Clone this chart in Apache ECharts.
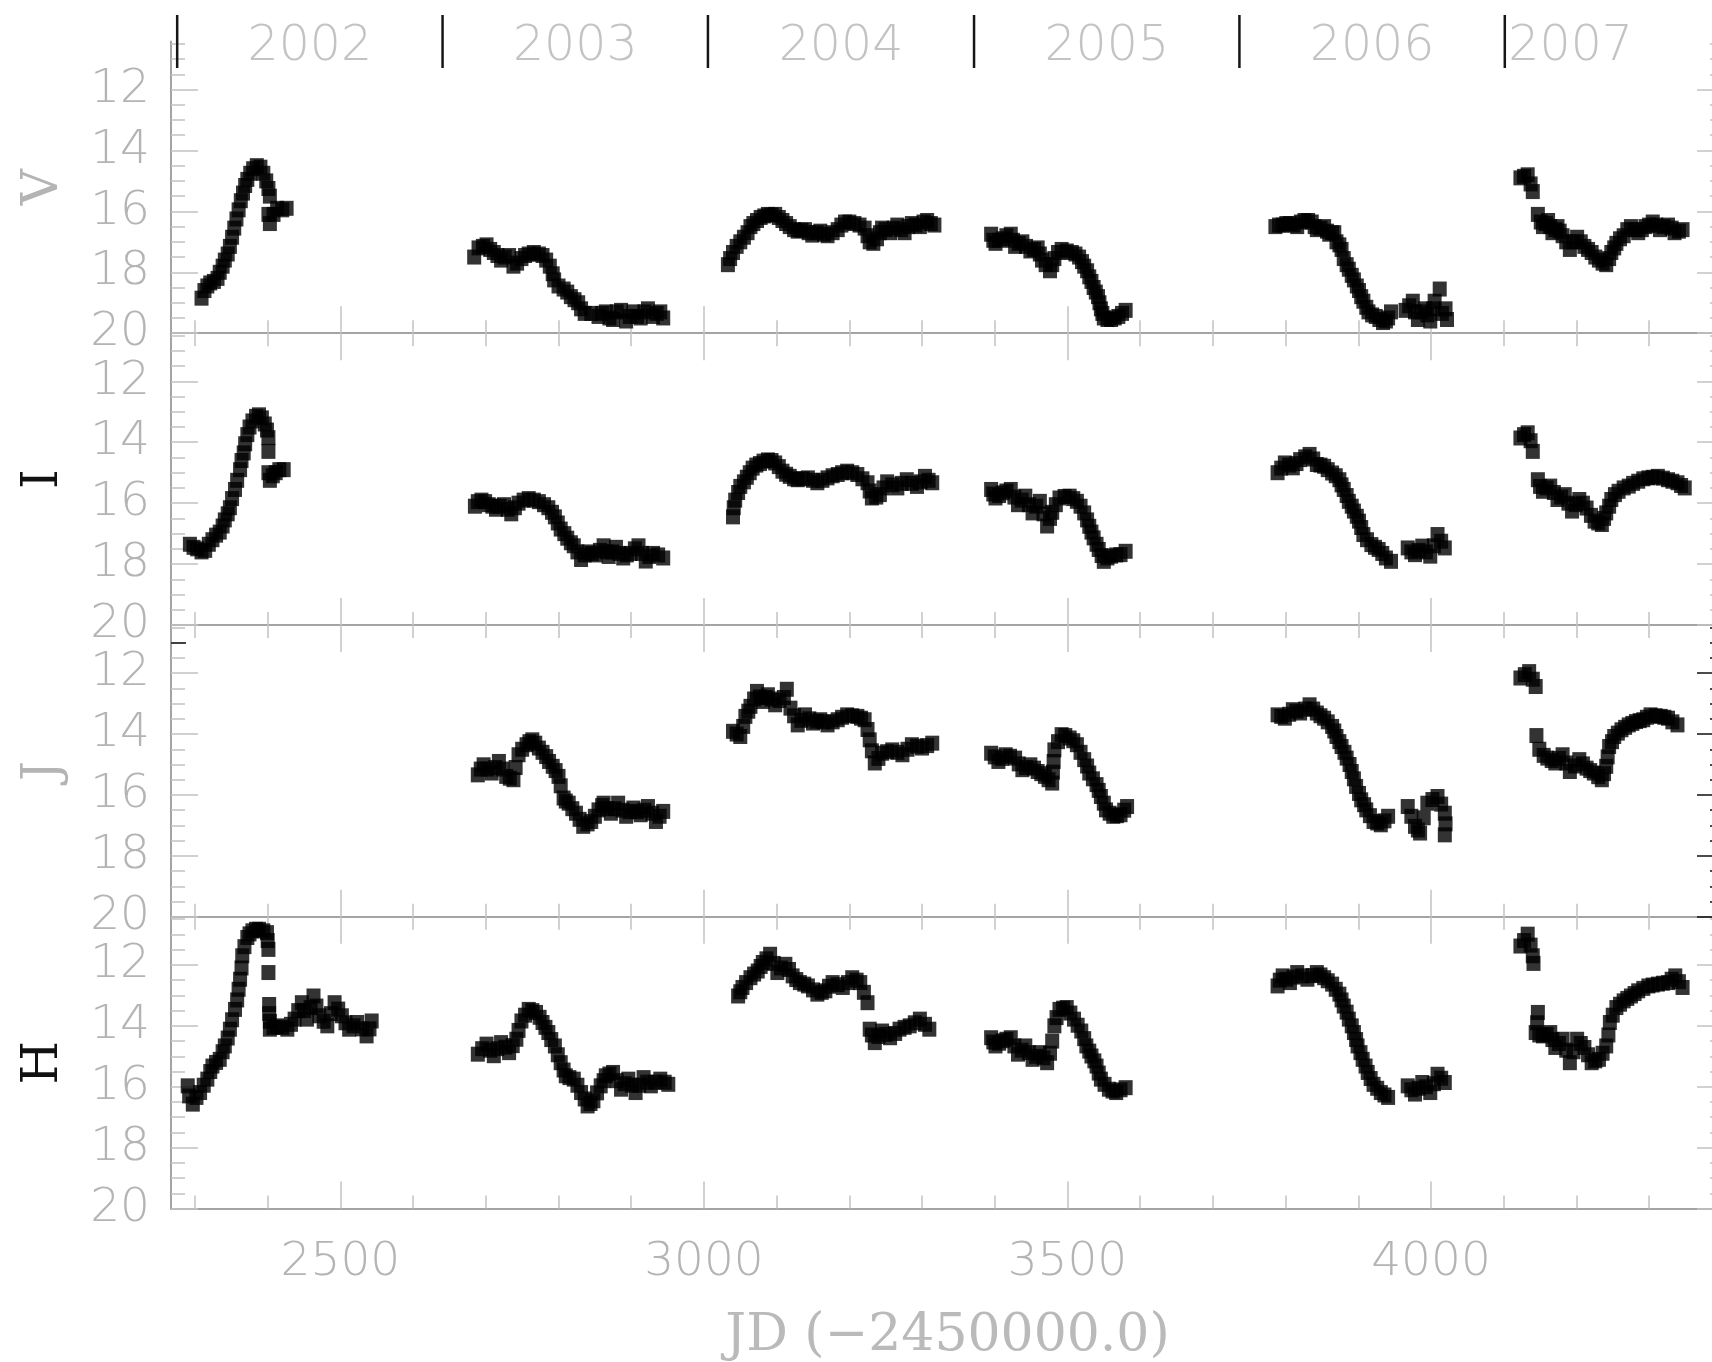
<!DOCTYPE html>
<html>
<head>
<meta charset="utf-8">
<title>Light curves V, I, J, H</title>
<script src="https://cdn.jsdelivr.net/npm/echarts@6/dist/echarts.min.js"></script>
<style>
  html, body { margin: 0; padding: 0; background: #ffffff; }
  #chart { width: 1712px; height: 1362px; }
</style>
</head>
<body>
<div id="chart"></div>
<script>
// Observation seasons: [JD - 2450000, magnitude]
const V_MAG = [
  [2309,18.85],[2313,18.6],[2317,18.45],[2321,18.35],[2326,18.3],[2331,18.2],[2334,18.0],[2338,17.8],[2341,17.6],[2345,17.4],[2348,17.15],[2351,16.85],[2354,16.55],[2357,16.25],[2360,15.95],[2363,15.65],[2366,15.4],[2369,15.15],[2372,14.95],[2376,14.75],[2380,14.6],[2385,14.5],[2390,14.55],[2394,14.75],[2398,15.0],[2401,15.25],[2403,15.5],[2401,16.1],[2403,16.4],[2408,16.1],[2413,15.9],[2420,15.95],[2426,15.9],
  [2684,17.5],[2690,17.2],[2696,17.15],[2701,17.1],[2706,17.25],[2711,17.35],[2716,17.45],[2721,17.6],[2726,17.5],[2732,17.45],[2738,17.8],[2743,17.7],[2749,17.55],[2754,17.45],[2759,17.4],[2766,17.35],[2773,17.4],[2778,17.45],[2783,17.6],[2788,17.8],[2792,18.05],[2794,18.25],[2800,18.45],[2807,18.55],[2812,18.65],[2817,18.8],[2822,18.9],[2827,19.0],[2831,19.2],[2836,19.35],[2845,19.35],[2855,19.45],[2860,19.35],[2865,19.3],[2870,19.5],[2875,19.55],[2880,19.3],[2886,19.25],[2893,19.6],[2898,19.45],[2903,19.3],[2908,19.45],[2913,19.5],[2918,19.3],[2923,19.2],[2930,19.45],[2935,19.35],[2940,19.3],[2944,19.5],
  [3033,17.75],[3036,17.55],[3040,17.35],[3045,17.15],[3050,17.0],[3055,16.85],[3060,16.7],[3064,16.5],[3068,16.4],[3073,16.3],[3078,16.2],[3083,16.15],[3088,16.1],[3093,16.12],[3098,16.1],[3103,16.2],[3108,16.3],[3113,16.4],[3118,16.5],[3124,16.6],[3129,16.65],[3134,16.62],[3139,16.6],[3144,16.7],[3149,16.78],[3155,16.7],[3160,16.65],[3165,16.75],[3170,16.8],[3177,16.7],[3184,16.6],[3189,16.45],[3194,16.35],[3200,16.35],[3207,16.4],[3214,16.45],[3221,16.55],[3225,16.8],[3228,17.0],[3233,17.05],[3238,16.9],[3242,16.7],[3245,16.55],[3250,16.6],[3256,16.7],[3261,16.55],[3266,16.45],[3271,16.6],[3276,16.7],[3281,16.5],[3286,16.4],[3291,16.45],[3297,16.5],[3302,16.35],[3307,16.3],[3312,16.4],[3317,16.45],
  [3395,16.75],[3398,16.95],[3401,17.05],[3406,16.95],[3411,16.9],[3416,16.8],[3422,16.75],[3425,16.95],[3428,17.15],[3433,17.05],[3438,17.0],[3443,17.15],[3449,17.3],[3454,17.25],[3459,17.2],[3462,17.4],[3465,17.6],[3470,17.75],[3476,17.95],[3479,17.75],[3482,17.55],[3487,17.35],[3492,17.25],[3499,17.3],[3506,17.35],[3511,17.4],[3516,17.5],[3520,17.65],[3523,17.8],[3527,17.95],[3530,18.15],[3533,18.3],[3536,18.5],[3539,18.65],[3542,18.8],[3544,19.0],[3546,19.2],[3548,19.35],[3550,19.5],[3555,19.55],[3560,19.55],[3565,19.5],[3570,19.45],[3575,19.35],[3580,19.25],
  [3786,16.5],[3791,16.45],[3796,16.45],[3801,16.4],[3806,16.4],[3811,16.45],[3816,16.5],[3821,16.35],[3826,16.3],[3831,16.3],[3836,16.35],[3840,16.5],[3843,16.6],[3848,16.55],[3853,16.5],[3857,16.65],[3860,16.75],[3864,16.7],[3867,16.7],[3870,17.0],[3874,17.1],[3877,17.25],[3880,17.55],[3884,17.75],[3887,17.9],[3891,18.1],[3894,18.25],[3898,18.45],[3901,18.6],[3904,18.8],[3907,18.95],[3911,19.15],[3914,19.3],[3919,19.4],[3924,19.45],[3929,19.55],[3934,19.65],[3938,19.6],[3941,19.5],[3945,19.3],[3965,19.25],[3970,19.1],[3975,18.95],[3978,19.3],[3982,19.55],[3987,19.3],[3992,19.2],[3995,19.4],[3999,19.6],[4003,19.2],[4005,18.95],[4012,18.55],[4015,19.35],[4020,19.2],[4022,19.55],
  [4123,14.9],[4128,14.85],[4133,14.8],[4137,15.1],[4140,15.35],[4147,16.1],[4151,16.35],[4154,16.5],[4158,16.4],[4161,16.3],[4164,16.5],[4167,16.7],[4171,16.6],[4174,16.5],[4177,16.65],[4181,16.8],[4186,17.0],[4191,17.25],[4196,17.0],[4201,16.85],[4206,17.0],[4211,17.15],[4216,17.25],[4221,17.35],[4226,17.5],[4231,17.6],[4236,17.7],[4241,17.75],[4245,17.55],[4248,17.35],[4252,17.2],[4255,17.05],[4260,16.9],[4265,16.8],[4270,16.6],[4275,16.5],[4280,16.6],[4285,16.7],[4290,16.6],[4295,16.5],[4300,16.45],[4305,16.35],[4310,16.45],[4315,16.6],[4320,16.5],[4326,16.45],[4331,16.55],[4335,16.7],[4341,16.65],[4346,16.6]
];

const I_MAG = [
  [2293,17.35],[2298,17.45],[2303,17.5],[2309,17.6],[2314,17.55],[2319,17.35],[2324,17.2],[2329,17.05],[2334,16.95],[2338,16.75],[2341,16.55],[2345,16.35],[2348,16.15],[2351,15.85],[2355,15.55],[2358,15.25],[2362,14.9],[2364,14.6],[2367,14.35],[2369,14.05],[2372,13.75],[2375,13.5],[2379,13.3],[2384,13.15],[2388,13.1],[2392,13.2],[2396,13.4],[2399,13.6],[2401,13.85],[2401,14.3],[2401,15.0],[2403,15.25],[2407,15.1],[2411,15.0],[2416,14.9],[2422,14.9],
  [2685,16.1],[2689,15.95],[2694,15.9],[2699,15.95],[2704,16.05],[2709,16.1],[2714,16.2],[2719,16.1],[2725,16.05],[2730,16.2],[2735,16.35],[2740,16.15],[2745,16.0],[2752,15.9],[2759,15.85],[2766,15.9],[2773,15.95],[2780,16.05],[2786,16.15],[2791,16.3],[2795,16.45],[2799,16.65],[2803,16.85],[2808,17.0],[2812,17.15],[2817,17.3],[2821,17.4],[2826,17.6],[2831,17.85],[2836,17.7],[2841,17.6],[2846,17.65],[2851,17.7],[2857,17.55],[2862,17.4],[2866,17.6],[2869,17.75],[2874,17.6],[2879,17.45],[2884,17.65],[2889,17.8],[2894,17.7],[2899,17.65],[2905,17.5],[2910,17.4],[2915,17.65],[2920,17.9],[2925,17.75],[2930,17.65],[2937,17.7],[2944,17.8],
  [3040,16.45],[3041,16.15],[3043,15.9],[3047,15.65],[3050,15.45],[3055,15.3],[3059,15.15],[3063,15.0],[3067,14.85],[3072,14.75],[3077,14.7],[3082,14.62],[3088,14.58],[3093,14.6],[3098,14.68],[3103,14.8],[3108,14.95],[3113,15.05],[3118,15.12],[3124,15.2],[3129,15.23],[3136,15.2],[3143,15.17],[3150,15.25],[3156,15.33],[3163,15.25],[3170,15.17],[3177,15.1],[3184,15.06],[3190,15.0],[3197,14.95],[3204,15.0],[3211,15.06],[3218,15.2],[3225,15.33],[3228,15.6],[3231,15.83],[3237,15.8],[3242,15.72],[3247,15.5],[3252,15.3],[3259,15.4],[3266,15.5],[3272,15.35],[3279,15.23],[3286,15.35],[3293,15.45],[3298,15.3],[3304,15.12],[3309,15.25],[3314,15.33],
  [3395,15.55],[3398,15.7],[3401,15.83],[3406,15.75],[3411,15.66],[3416,15.6],[3422,15.55],[3427,15.8],[3432,16.05],[3437,15.9],[3442,15.77],[3447,16.05],[3452,16.32],[3457,16.1],[3462,15.94],[3467,16.35],[3472,16.75],[3476,16.5],[3479,16.3],[3484,16.05],[3489,15.83],[3496,15.78],[3503,15.77],[3508,15.85],[3513,15.94],[3518,16.1],[3523,16.32],[3527,16.55],[3530,16.76],[3533,16.95],[3536,17.14],[3540,17.35],[3543,17.52],[3547,17.72],[3550,17.91],[3555,17.8],[3560,17.74],[3567,17.7],[3573,17.69],[3580,17.58],
  [3789,15.0],[3794,14.85],[3799,14.68],[3805,14.75],[3810,14.84],[3815,14.7],[3820,14.57],[3827,14.48],[3833,14.4],[3838,14.55],[3843,14.73],[3848,14.75],[3853,14.79],[3858,14.9],[3864,15.01],[3869,15.1],[3874,15.23],[3877,15.4],[3880,15.55],[3884,15.75],[3887,15.94],[3891,16.1],[3894,16.26],[3898,16.43],[3901,16.59],[3904,16.8],[3907,17.03],[3912,17.2],[3918,17.36],[3923,17.45],[3928,17.52],[3933,17.65],[3938,17.8],[3945,17.91],[3968,17.47],[3973,17.6],[3978,17.69],[3983,17.55],[3988,17.41],[3993,17.6],[3999,17.74],[4004,17.4],[4009,17.03],[4014,17.25],[4019,17.47],
  [4123,13.86],[4128,13.75],[4133,13.69],[4137,13.95],[4140,14.3],[4147,15.23],[4150,15.45],[4154,15.61],[4159,15.5],[4164,15.44],[4169,15.65],[4174,15.88],[4179,15.8],[4184,15.72],[4189,16.0],[4194,16.26],[4199,16.05],[4204,15.88],[4209,16.0],[4214,16.16],[4220,16.4],[4225,16.59],[4230,16.65],[4235,16.7],[4238,16.5],[4241,16.32],[4245,16.1],[4248,15.88],[4253,15.72],[4258,15.61],[4265,15.5],[4272,15.44],[4278,15.35],[4285,15.28],[4292,15.2],[4299,15.17],[4305,15.15],[4312,15.12],[4319,15.18],[4326,15.23],[4332,15.28],[4339,15.33],[4344,15.42],[4349,15.5]
];

const J_MAG = [
  [2689,15.34],[2693,15.15],[2697,15.01],[2702,15.15],[2708,15.28],[2713,15.1],[2718,14.9],[2723,15.15],[2728,15.39],[2733,15.45],[2738,15.5],[2741,15.1],[2745,14.68],[2750,14.5],[2756,14.35],[2760,14.25],[2764,14.19],[2768,14.3],[2773,14.46],[2778,14.6],[2783,14.74],[2787,14.9],[2792,15.06],[2796,15.2],[2800,15.39],[2803,15.7],[2807,16.1],[2810,16.2],[2814,16.27],[2819,16.45],[2824,16.6],[2829,16.8],[2834,17.03],[2840,16.95],[2845,16.87],[2850,16.7],[2855,16.49],[2860,16.35],[2862,16.27],[2867,16.45],[2872,16.6],[2877,16.45],[2882,16.27],[2888,16.5],[2893,16.7],[2898,16.55],[2903,16.43],[2908,16.55],[2913,16.65],[2918,16.5],[2923,16.38],[2929,16.6],[2934,16.87],[2939,16.7],[2944,16.54],
  [3040,13.91],[3045,14.0],[3050,14.08],[3054,13.75],[3057,13.42],[3061,13.25],[3064,13.09],[3069,12.85],[3073,12.6],[3077,12.78],[3081,12.93],[3085,12.8],[3088,12.71],[3093,12.85],[3098,13.04],[3104,12.9],[3110,12.8],[3114,12.53],[3119,13.15],[3124,13.4],[3129,13.7],[3134,13.55],[3139,13.37],[3145,13.5],[3150,13.64],[3155,13.58],[3160,13.53],[3165,13.6],[3170,13.7],[3177,13.6],[3184,13.53],[3190,13.45],[3197,13.37],[3204,13.4],[3211,13.42],[3216,13.48],[3221,13.53],[3225,13.85],[3228,14.19],[3231,14.55],[3235,14.95],[3240,14.8],[3245,14.63],[3252,14.58],[3259,14.52],[3266,14.6],[3273,14.68],[3280,14.5],[3286,14.35],[3293,14.4],[3300,14.46],[3307,14.38],[3314,14.3],
  [3395,14.63],[3400,14.75],[3405,14.9],[3410,14.8],[3415,14.68],[3421,14.73],[3428,14.79],[3433,14.98],[3438,15.17],[3443,15.1],[3449,15.01],[3454,15.12],[3459,15.23],[3464,15.3],[3469,15.39],[3474,15.5],[3479,15.61],[3480,15.25],[3481,14.9],[3482,14.52],[3487,14.25],[3492,14.02],[3497,14.05],[3503,14.13],[3508,14.22],[3513,14.35],[3518,14.6],[3523,14.84],[3527,15.05],[3530,15.28],[3535,15.47],[3540,15.66],[3543,15.85],[3546,16.05],[3550,16.27],[3553,16.49],[3558,16.6],[3563,16.7],[3568,16.68],[3573,16.65],[3578,16.5],[3582,16.38],
  [3789,13.37],[3794,13.42],[3799,13.48],[3805,13.35],[3810,13.2],[3815,13.25],[3820,13.31],[3827,13.18],[3833,13.04],[3838,13.18],[3843,13.31],[3848,13.4],[3853,13.48],[3858,13.6],[3864,13.75],[3867,13.9],[3870,14.08],[3874,14.25],[3877,14.41],[3881,14.6],[3884,14.79],[3888,15.0],[3891,15.23],[3894,15.47],[3897,15.72],[3901,15.95],[3904,16.16],[3908,16.32],[3911,16.49],[3916,16.68],[3921,16.87],[3926,16.92],[3931,16.98],[3936,16.85],[3941,16.7],[3968,16.38],[3973,16.7],[3978,17.03],[3982,17.15],[3985,17.25],[3990,16.75],[3995,16.27],[4002,16.15],[4009,16.05],[4014,16.3],[4019,16.6],[4020,16.95],[4019,17.31],
  [4123,12.16],[4129,12.05],[4135,11.95],[4140,12.2],[4144,12.44],[4145,14.05],[4149,14.5],[4155,14.7],[4160,14.79],[4166,14.87],[4171,14.95],[4176,14.8],[4181,14.68],[4186,14.95],[4191,15.23],[4198,15.05],[4204,14.84],[4209,14.98],[4214,15.12],[4219,15.2],[4224,15.28],[4230,15.4],[4235,15.5],[4238,15.3],[4241,15.06],[4243,14.75],[4245,14.41],[4249,14.25],[4252,14.08],[4257,13.97],[4262,13.86],[4267,13.78],[4272,13.7],[4277,13.65],[4282,13.59],[4287,13.56],[4292,13.53],[4297,13.45],[4302,13.37],[4309,13.4],[4316,13.42],[4321,13.45],[4326,13.48],[4332,13.6],[4339,13.7]
];

const H_MAG = [
  [2290,15.97],[2292,16.3],[2297,16.57],[2302,16.35],[2307,16.19],[2312,15.95],[2317,15.75],[2321,15.5],[2324,15.32],[2329,15.2],[2334,15.1],[2338,14.85],[2341,14.66],[2345,14.4],[2348,14.11],[2351,13.8],[2355,13.46],[2358,13.15],[2360,12.8],[2362,12.47],[2364,12.1],[2365,11.7],[2368,11.4],[2372,11.1],[2375,10.98],[2379,10.88],[2384,10.83],[2388,10.83],[2394,10.88],[2399,10.94],[2400,11.2],[2401,11.49],[2401,12.25],[2402,13.3],[2402,13.6],[2403,13.85],[2403,14.11],[2408,14.05],[2413,14.0],[2420,14.05],[2427,14.11],[2432,13.95],[2437,13.78],[2442,13.5],[2447,13.24],[2450,13.5],[2454,13.78],[2459,13.4],[2463,13.02],[2467,13.35],[2471,13.67],[2477,13.85],[2482,14.0],[2487,13.6],[2492,13.24],[2497,13.45],[2502,13.67],[2507,13.9],[2512,14.11],[2518,14.0],[2523,13.89],[2530,14.1],[2536,14.33],[2540,14.1],[2543,13.84],
  [2689,14.93],[2695,14.75],[2701,14.6],[2706,14.8],[2711,14.98],[2716,14.75],[2721,14.55],[2727,14.7],[2732,14.88],[2737,14.65],[2742,14.44],[2745,14.15],[2749,13.84],[2754,13.65],[2759,13.46],[2764,13.5],[2769,13.56],[2774,13.72],[2778,13.89],[2782,14.05],[2786,14.22],[2790,14.45],[2795,14.66],[2799,14.95],[2803,15.21],[2807,15.45],[2810,15.64],[2815,15.7],[2821,15.75],[2826,15.95],[2831,16.19],[2836,16.4],[2840,16.63],[2844,16.55],[2848,16.46],[2853,16.2],[2858,15.97],[2862,15.8],[2865,15.64],[2870,15.58],[2875,15.53],[2880,15.8],[2886,16.08],[2891,15.9],[2896,15.75],[2901,15.95],[2906,16.19],[2911,15.95],[2917,15.7],[2922,15.85],[2927,15.97],[2933,15.85],[2940,15.75],[2946,15.85],[2951,15.92],
  [3047,13.02],[3050,12.88],[3053,12.74],[3058,12.58],[3064,12.42],[3069,12.3],[3074,12.2],[3078,12.05],[3081,11.92],[3086,11.8],[3091,11.65],[3096,11.95],[3101,12.25],[3106,12.1],[3112,11.98],[3117,12.15],[3122,12.36],[3127,12.48],[3132,12.58],[3138,12.63],[3143,12.69],[3150,12.82],[3156,12.96],[3162,12.9],[3167,12.85],[3172,12.7],[3177,12.58],[3184,12.65],[3191,12.74],[3198,12.58],[3204,12.42],[3210,12.5],[3215,12.58],[3220,12.9],[3225,13.24],[3228,14.11],[3231,14.3],[3235,14.55],[3240,14.35],[3245,14.17],[3250,14.28],[3256,14.39],[3263,14.25],[3269,14.11],[3276,14.05],[3283,14.0],[3290,13.9],[3297,13.78],[3304,13.95],[3310,14.11],
  [3395,14.39],[3398,14.53],[3401,14.66],[3406,14.57],[3411,14.49],[3416,14.44],[3422,14.39],[3427,14.66],[3432,14.93],[3437,14.8],[3442,14.66],[3447,14.88],[3452,15.1],[3457,15.0],[3462,14.88],[3467,15.05],[3472,15.21],[3476,14.9],[3479,14.5],[3482,14.0],[3485,13.73],[3489,13.46],[3494,13.42],[3499,13.4],[3504,13.58],[3509,13.78],[3514,13.98],[3519,14.17],[3523,14.42],[3526,14.66],[3530,14.83],[3533,14.99],[3537,15.15],[3540,15.32],[3543,15.55],[3546,15.75],[3551,15.92],[3557,16.08],[3562,16.14],[3567,16.19],[3573,16.1],[3580,16.03],
  [3789,12.69],[3792,12.5],[3796,12.36],[3801,12.47],[3806,12.58],[3811,12.4],[3816,12.25],[3823,12.36],[3830,12.47],[3837,12.35],[3843,12.25],[3848,12.33],[3853,12.42],[3858,12.52],[3864,12.63],[3869,12.8],[3874,12.96],[3877,13.15],[3880,13.35],[3884,13.55],[3887,13.78],[3891,14.0],[3894,14.22],[3897,14.45],[3899,14.66],[3903,14.88],[3906,15.1],[3910,15.32],[3913,15.53],[3917,15.73],[3921,15.92],[3926,16.05],[3931,16.19],[3936,16.27],[3941,16.35],[3968,15.97],[3973,16.1],[3978,16.24],[3983,16.05],[3988,15.86],[3993,16.0],[3999,16.19],[4004,15.9],[4009,15.59],[4014,15.72],[4019,15.86],
  [4123,11.38],[4128,11.2],[4133,10.99],[4137,11.35],[4140,11.7],[4141,11.95],[4147,13.56],[4146,13.9],[4144,14.22],[4149,14.3],[4154,14.33],[4159,14.28],[4164,14.22],[4167,14.45],[4171,14.71],[4176,14.58],[4181,14.44],[4186,14.8],[4191,15.21],[4196,14.85],[4201,14.44],[4206,14.58],[4211,14.71],[4216,14.95],[4221,15.21],[4226,15.15],[4231,15.1],[4236,14.9],[4241,14.66],[4244,14.3],[4246,13.89],[4250,13.65],[4255,13.4],[4260,13.29],[4265,13.18],[4270,13.1],[4275,13.02],[4280,12.94],[4285,12.85],[4292,12.77],[4299,12.69],[4305,12.66],[4312,12.63],[4319,12.6],[4326,12.58],[4331,12.47],[4336,12.36],[4341,12.55],[4346,12.74]
];

// Band names (top to bottom) and label colours
const BANDS = ['V', 'I', 'J', 'H'];
const BAND_NAME_COLORS = ['#b4b4b4', '#111111', '#b4b4b4', '#111111'];

// Calendar years: JD - 2450000 of 1 January
const YEAR_STARTS = [2275.5, 2640.5, 3005.5, 3371.5, 3736.5, 4101.5];
const YEAR_NAMES = ['2002', '2003', '2004', '2005', '2006', '2007'];

// Axis ticks
const JD_MAJOR = [2500, 3000, 3500, 4000];
const JD_MINOR = [2300, 2400, 2600, 2700, 2800, 2900, 3100, 3200, 3300, 3400, 3600, 3700, 3800, 3900, 4100, 4200, 4300, 4400];
const MAG_MAJOR = [12, 14, 16, 18, 20];
const MAG_MINOR = [10.5, 11, 11.5, 12.5, 13, 13.5, 14.5, 15, 15.5, 16.5, 17, 17.5, 18.5, 19, 19.5];

const JD_MIN = 2267, JD_MAX = 4403;
const MAG_BRIGHT = 10.42, MAG_FAINT = 20;

// The frame runs a little past the right edge of the page
const PLOT_LEFT = 171, PLOT_WIDTH = 1553;
const PANEL_TOP = 41.4, PANEL_H = 291.8;

const LINE_GREY = '#a4a4a4';
const TICK_GREY = '#c2c2c2';
const TEXT_GREY = '#b4b4b4';
const NUM_FONT = 'DejaVu Sans';
const NAME_FONT = 'DejaVu Serif';

const bandData = [V_MAG, I_MAG, J_MAG, H_MAG];

const grids = [], xAxes = [], yAxes = [], series = [];

function plainNumber(v) { return String(v); }

function panelGrid(top, height) {
  return { left: PLOT_LEFT, width: PLOT_WIDTH, top: top, height: height, outerBoundsMode: 'none' };
}

function jdAxis(grid, position, ticks, tickLen, opts) {
  opts = opts || {};
  return {
    type: 'value', gridIndex: grid, position: position,
    min: JD_MIN, max: JD_MAX,
    axisLine: { show: !!opts.line, onZero: false, lineStyle: { color: LINE_GREY, width: 2 } },
    axisTick: { show: true, inside: true, length: tickLen, customValues: ticks,
                lineStyle: { color: TICK_GREY, width: 1.5 } },
    axisLabel: opts.labels ? {
      show: true, customValues: JD_MAJOR, margin: 31, formatter: plainNumber,
      color: TEXT_GREY, fontFamily: NUM_FONT, fontWeight: 200, fontSize: 47
    } : { show: false },
    splitLine: { show: false },
    name: opts.name || '', nameLocation: 'middle', nameGap: opts.nameGap || 0,
    nameTextStyle: { color: '#bababa', fontFamily: NAME_FONT, fontSize: 52 }
  };
}

function magAxis(grid, position, ticks, tickLen, opts) {
  opts = opts || {};
  return {
    type: 'value', gridIndex: grid, position: position,
    min: MAG_BRIGHT, max: MAG_FAINT, inverse: true,
    axisLine: { show: !!opts.line, onZero: false, lineStyle: { color: LINE_GREY, width: 2 } },
    axisTick: { show: true, inside: true, length: tickLen, customValues: ticks,
                lineStyle: { color: opts.tickColor || TICK_GREY, width: 1.5 } },
    axisLabel: opts.labels ? {
      show: true, customValues: MAG_MAJOR, margin: 21, formatter: plainNumber,
      color: TEXT_GREY, fontFamily: NUM_FONT, fontWeight: 200, fontSize: 47
    } : { show: false },
    splitLine: { show: false },
    name: opts.name || '', nameLocation: 'middle', nameGap: 102, nameRotate: 90,
    nameTextStyle: { color: opts.nameColor || TEXT_GREY, fontFamily: NAME_FONT, fontSize: 50 }
  };
}

BANDS.forEach(function (band, k) {
  grids.push(panelGrid(PANEL_TOP + k * PANEL_H, PANEL_H));
  const last = k === BANDS.length - 1;

  const xMain = xAxes.length;
  xAxes.push(jdAxis(k, 'bottom', JD_MAJOR, 27, {
    line: true, labels: last,
    name: last ? 'JD (\u22122450000.0)' : '', nameGap: 102
  }));
  xAxes.push(jdAxis(k, 'bottom', JD_MINOR, 13));
  if (k > 0) {
    xAxes.push(jdAxis(k, 'top', JD_MAJOR, 27));
    xAxes.push(jdAxis(k, 'top', JD_MINOR, 13));
  }

  const yMain = yAxes.length;
  const rightColor = band === 'J' ? '#111111' : TICK_GREY;
  yAxes.push(magAxis(k, 'left', MAG_MAJOR, 27, {
    line: true, labels: true, name: band, nameColor: BAND_NAME_COLORS[k]
  }));
  yAxes.push(magAxis(k, 'left', MAG_MINOR, 14));
  yAxes.push(magAxis(k, 'right', MAG_MAJOR, 27, { tickColor: rightColor }));
  yAxes.push(magAxis(k, 'right', MAG_MINOR, 14, { tickColor: rightColor }));
  if (band === 'J') {
    yAxes.push(magAxis(k, 'left', [11], 15, { tickColor: '#111111' }));
  }

  series.push({
    type: 'scatter', name: band,
    xAxisIndex: xMain, yAxisIndex: yMain,
    data: bandData[k],
    symbol: 'rect', symbolSize: [14, 15],
    itemStyle: { color: '#000000' },
    silent: true
  });
});

// Year strip above the top panel
const stripGrid = grids.length;
grids.push(panelGrid(15, 53));
const stripX = xAxes.length;
xAxes.push({ type: 'value', gridIndex: stripGrid, min: JD_MIN, max: JD_MAX, show: false });
const stripY = yAxes.length;
yAxes.push({ type: 'value', gridIndex: stripGrid, min: 0, max: 1, show: false });

series.push({
  type: 'custom', name: 'year boundaries',
  xAxisIndex: stripX, yAxisIndex: stripY,
  data: YEAR_STARTS.map(function (jd) { return [jd]; }),
  silent: true,
  renderItem: function (params, api) {
    const x = api.coord([api.value(0), 0])[0];
    const cs = params.coordSys;
    return {
      type: 'line',
      shape: { x1: x, y1: cs.y, x2: x, y2: cs.y + cs.height },
      style: { stroke: '#161616', lineWidth: 2.5 }
    };
  }
});

// Year labels sit midway between boundaries; the last one starts at its boundary
const yearLabels = YEAR_NAMES.map(function (name, i) {
  const isLast = i === YEAR_NAMES.length - 1;
  const jd = isLast ? YEAR_STARTS[i] : (YEAR_STARTS[i] + YEAR_STARTS[i + 1]) / 2;
  return {
    value: [jd, 0.4, name],
    label: isLast ? { position: 'right', distance: 3, align: 'left' } : { position: 'inside' }
  };
});
series.push({
  type: 'scatter', name: 'years',
  xAxisIndex: stripX, yAxisIndex: stripY,
  data: yearLabels,
  symbolSize: 1, itemStyle: { color: 'rgba(0,0,0,0)' },
  silent: true,
  label: {
    show: true, formatter: function (p) { return p.value[2]; },
    color: TEXT_GREY, fontFamily: NUM_FONT, fontWeight: 200, fontSize: 49
  }
});

const chart = echarts.init(document.getElementById('chart'), null, { renderer: 'canvas' });
chart.setOption({
  backgroundColor: '#ffffff',
  animation: false,
  grid: grids,
  xAxis: xAxes,
  yAxis: yAxes,
  series: series
});
</script>
</body>
</html>
